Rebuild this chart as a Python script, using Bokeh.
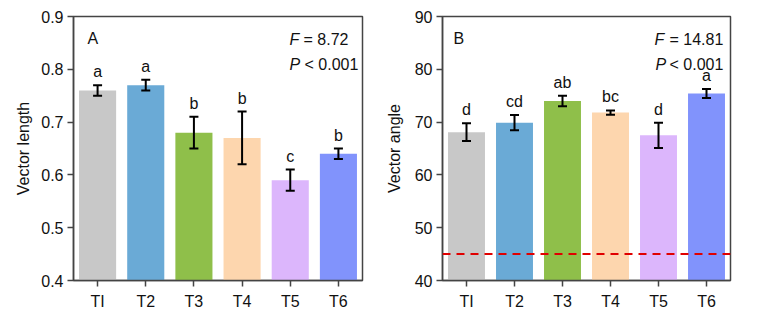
from bokeh.plotting import figure
from bokeh.layouts import row
from bokeh.models import ColumnDataSource, Whisker, Label, Span, FixedTicker, LabelSet
from bokeh.core.properties import value
from bokeh.embed import file_html
from bokeh.resources import INLINE

categories = ["TI", "T2", "T3", "T4", "T5", "T6"]
colors = ["#c8c8c8", "#6aaad6", "#8fbf4a", "#fdd6ae", "#dcb6fc", "#8193fc"]

length_mean = [0.76, 0.77, 0.68, 0.67, 0.59, 0.64]
length_err = [0.01, 0.01, 0.03, 0.05, 0.02, 0.01]
length_letters = ["a", "a", "b", "b", "c", "b"]

angle_mean = [68.1, 69.9, 74.0, 71.8, 67.5, 75.4]
angle_err = [1.7, 1.45, 1.0, 0.4, 2.4, 0.85]
angle_letters = ["d", "cd", "ab", "bc", "d", "a"]

length_ticks = [0.4, 0.5, 0.6, 0.7, 0.8, 0.9]
angle_ticks = [40, 50, 60, 70, 80, 90]
reference_angle = 45

FONT = "Liberation Sans"
FS = "16px"
TXT = "#111111"
AX = "#444444"


def panel(mean, err, letters, ticks, ylabel, width, bl, br, standoff):
    src = ColumnDataSource(dict(
        x=categories, top=mean, color=colors,
        upper=[m + e for m, e in zip(mean, err)],
        lower=[m - e for m, e in zip(mean, err)],
        letter=letters,
    ))
    p = figure(x_range=categories, y_range=(ticks[0], ticks[-1]),
               width=width, height=324, output_backend="svg",
               toolbar_location=None, min_border_left=bl, min_border_right=br,
               min_border_top=16, min_border_bottom=44)
    p.vbar(x="x", top="top", bottom=ticks[0], width=0.77, color="color",
           line_color=None, source=src)
    w = Whisker(base="x", upper="upper", lower="lower", source=src,
                line_color="black", line_width=2, level="overlay")
    w.upper_head.size = 9
    w.lower_head.size = 9
    w.upper_head.line_width = 2
    w.lower_head.line_width = 2
    p.add_layout(w)
    p.add_layout(LabelSet(x="x", y="upper", text="letter", source=src,
                          y_offset=8, text_align="center", text_baseline="alphabetic",
                          text_font=value(FONT), text_font_size=FS,
                          text_color=TXT))
    p.xgrid.visible = False
    p.ygrid.visible = False
    p.outline_line_color = AX
    p.outline_line_width = 1.5
    for ax in (p.xaxis, p.yaxis):
        ax.axis_line_color = AX
        ax.axis_line_width = 1.5
        ax.major_tick_line_color = AX
        ax.major_tick_line_width = 1.5
        ax.major_tick_out = 6
        ax.major_tick_in = 0
        ax.minor_tick_line_color = None
        ax.major_label_text_font = FONT
        ax.major_label_text_font_size = FS
        ax.major_label_text_color = TXT
    p.yaxis.ticker = FixedTicker(ticks=ticks)
    p.yaxis.major_label_standoff = 4
    p.yaxis.axis_label = ylabel
    p.yaxis.axis_label_text_font = FONT
    p.yaxis.axis_label_text_font_size = "16px"
    p.yaxis.axis_label_text_font_style = "normal"
    p.yaxis.axis_label_text_color = TXT
    p.yaxis.axis_label_standoff = standoff
    p.xaxis.major_label_standoff = 6
    p.x_range.range_padding = 0.0
    return p


def annotate(p, tag, fval, tag_x, f_x, eq_x, p_x, lt_x):
    kw = dict(x_units="screen", y_units="screen", text_font=FONT,
              text_font_size=FS, text_color=TXT, text_baseline="alphabetic")
    p.add_layout(Label(x=tag_x, y=242, text=tag, **kw))
    p.add_layout(Label(x=f_x, y=241, text="F", text_font_style="italic", **kw))
    p.add_layout(Label(x=eq_x, y=241, text="= " + fval, **kw))
    p.add_layout(Label(x=p_x, y=216, text="P", text_font_style="italic", **kw))
    p.add_layout(Label(x=lt_x, y=216, text="< 0.001", **kw))


pa = panel(length_mean, length_err, length_letters, length_ticks,
           "Vector length", 380, 73, 18, 6)
pb = panel(angle_mean, angle_err, angle_letters, angle_ticks,
           "Vector angle", 380, 62, 30, 9)

pb.add_layout(Span(location=reference_angle, dimension="width",
                   line_color="#e00000", line_width=2, line_dash="8 6"))

annotate(pa, "A", "8.72", 14, 216, 230, 216, 231)
annotate(pb, "B", "14.81", 11, 212, 227, 213, 227)

layout = row(pa, pb)
open("out.html", "w").write(file_html(layout, INLINE))
